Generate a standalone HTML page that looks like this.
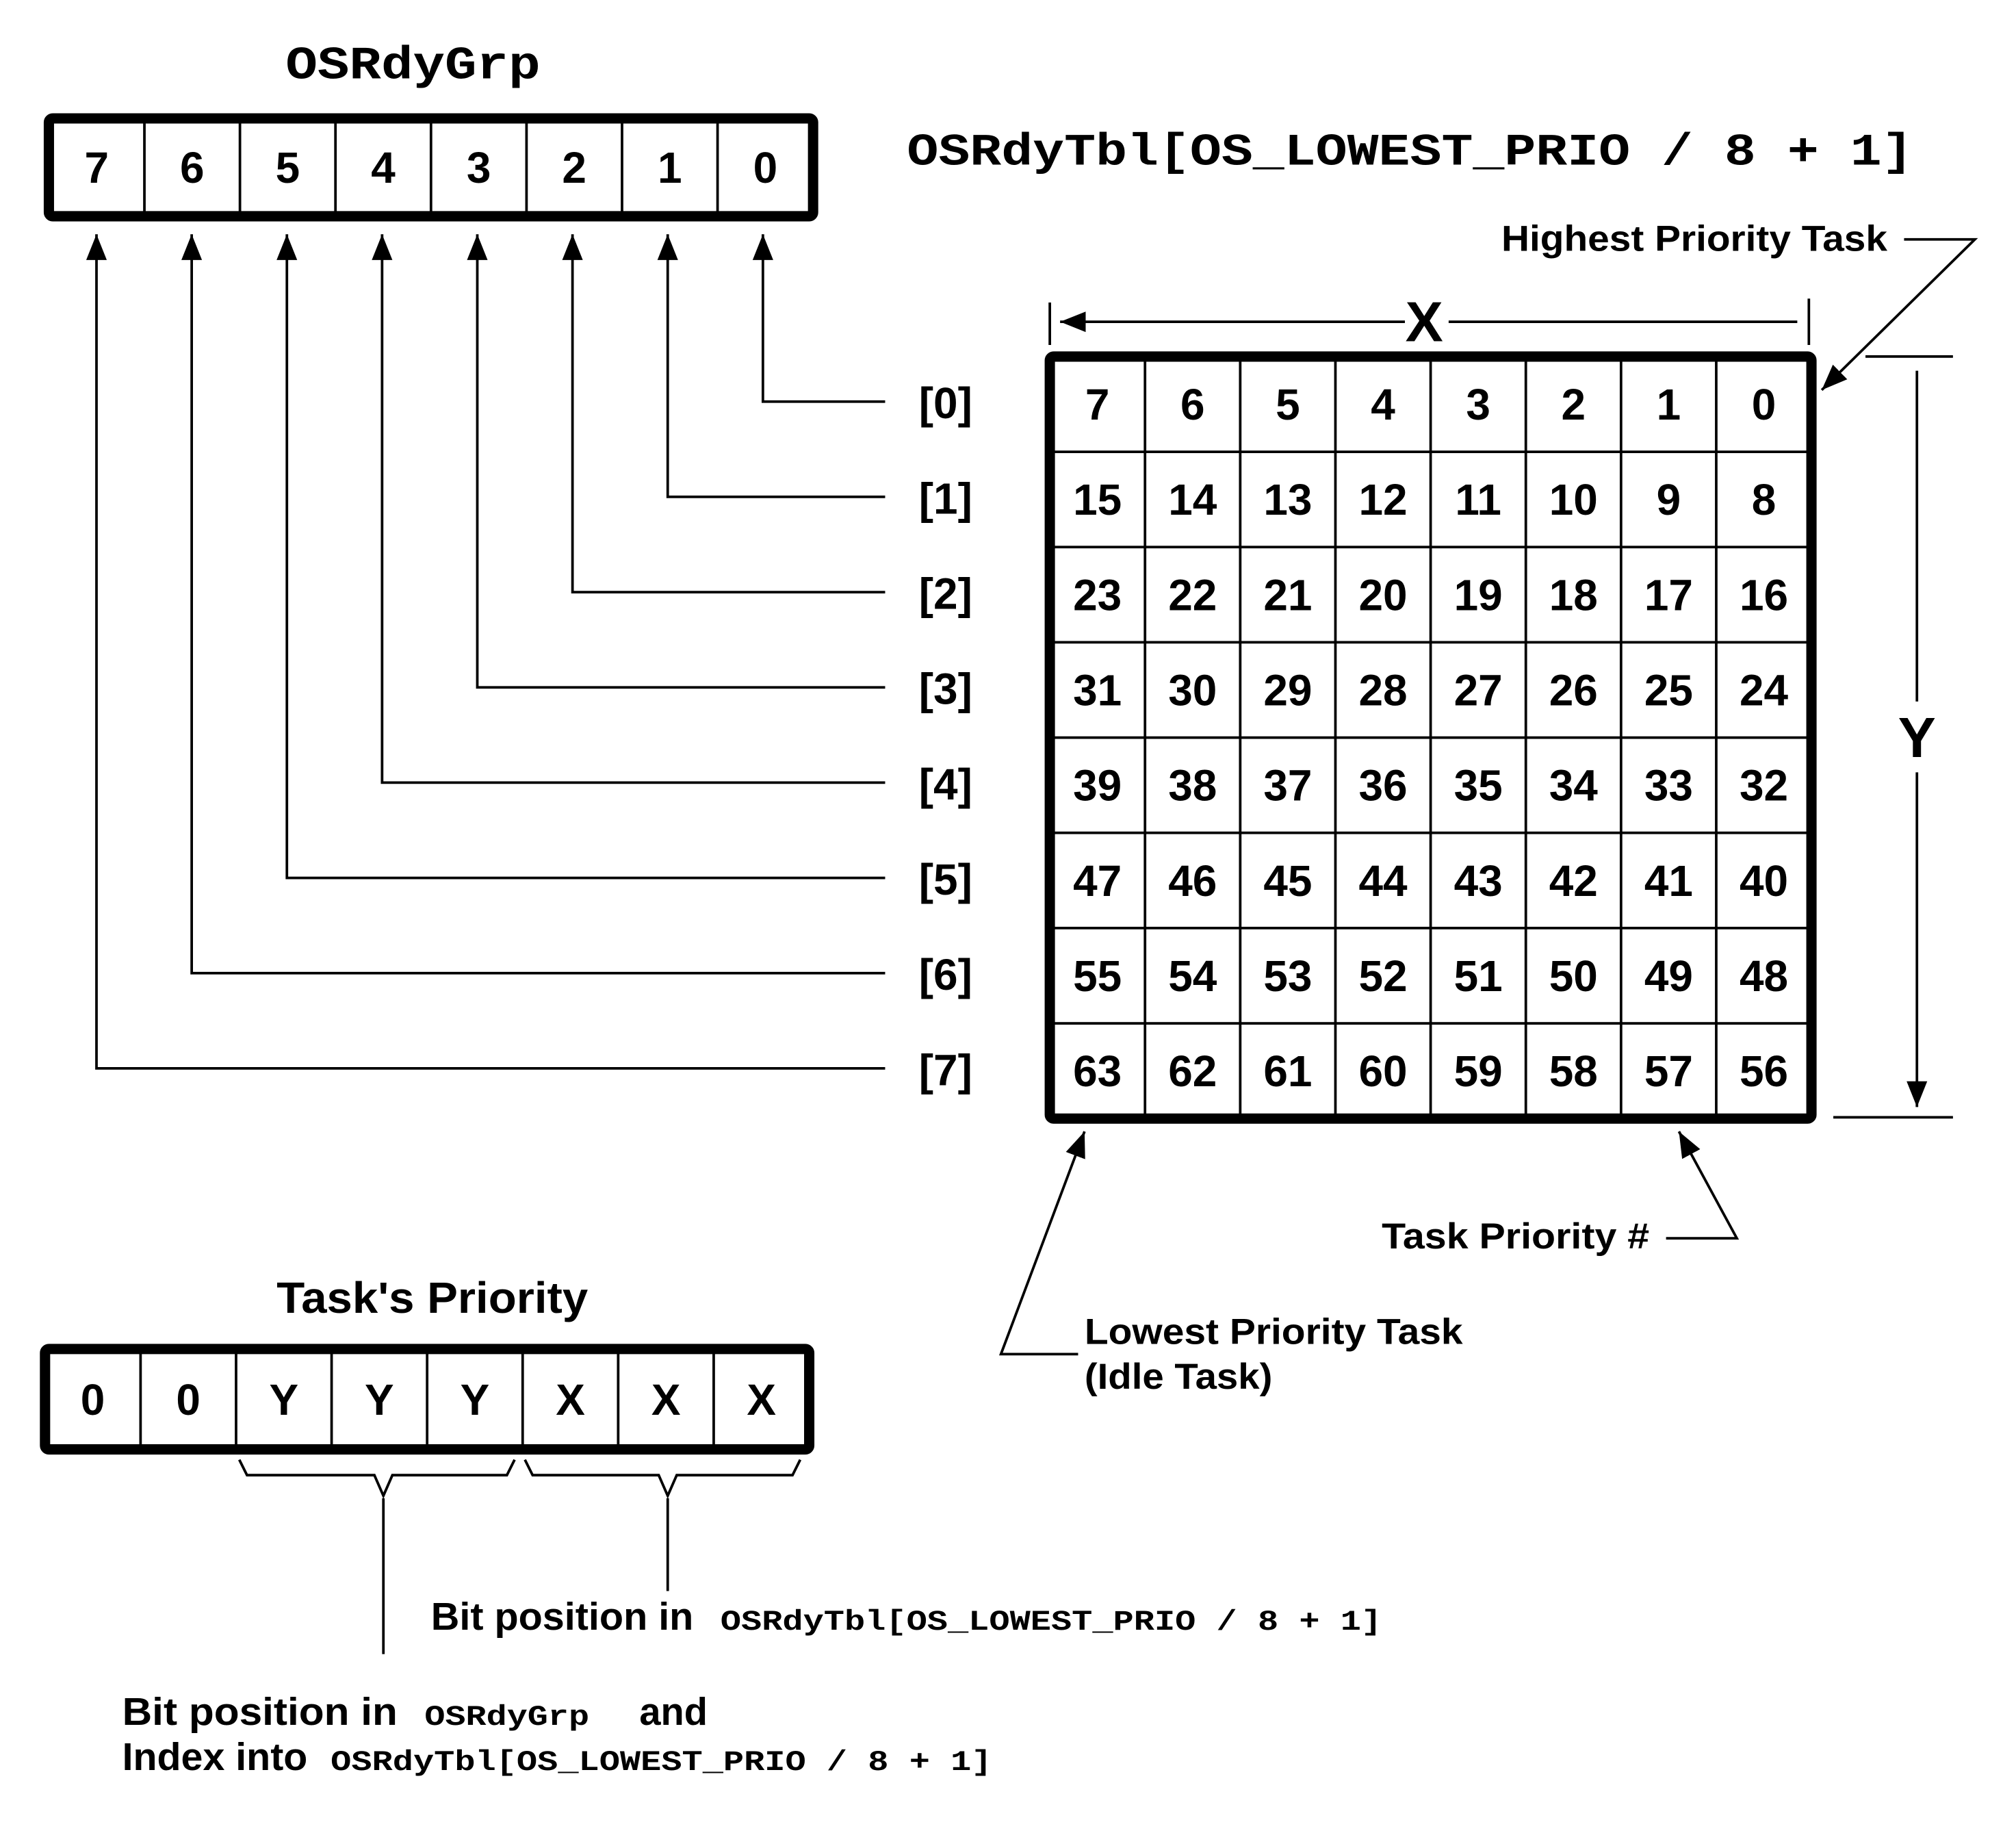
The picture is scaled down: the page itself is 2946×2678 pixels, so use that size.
<!DOCTYPE html>
<html><head><meta charset="utf-8"><style>html,body{margin:0;padding:0;background:#fff}svg{display:block}
.s{font-family:"Liberation Sans",sans-serif;font-weight:bold;fill:#000}
.m{font-family:"Liberation Mono",monospace;font-weight:bold;fill:#000}
</style></head><body>
<svg id="d" width="2946" height="2678" viewBox="0 0 1567 1424" preserveAspectRatio="none" xmlns="http://www.w3.org/2000/svg">
<defs><marker id="ab" viewBox="0 0 10 10" refX="10" refY="5" markerWidth="20" markerHeight="20" markerUnits="userSpaceOnUse" orient="auto"><path d="M0,1L10,5L0,9z" fill="#000"/></marker></defs>
<text class="m" x="222" y="61" font-size="36" textLength="198" lengthAdjust="spacingAndGlyphs">OSRdyGrp</text>
<g id="grp"></g>
<text class="m" x="705" y="128" font-size="35" textLength="782" lengthAdjust="spacingAndGlyphs">OSRdyTbl[OS_LOWEST_PRIO / 8 + 1]</text>
<g id="arrows"></g>
<g id="tbl"></g>
<g stroke="#000" stroke-width="2">
<line x1="816" y1="235" x2="816" y2="268"/><line x1="1406" y1="232" x2="1406" y2="268"/>
<line x1="1092" y1="250" x2="824" y2="250" marker-end="url(#ab)"/><line x1="1126" y1="250" x2="1397" y2="250"/>
</g>
<text class="s" x="1107" y="265" font-size="44" text-anchor="middle">X</text>
<g stroke="#000" stroke-width="2">
<line x1="1450" y1="277" x2="1518" y2="277"/><line x1="1425" y1="868" x2="1518" y2="868"/>
<line x1="1490" y1="288" x2="1490" y2="545"/><line x1="1490" y1="600" x2="1490" y2="860" marker-end="url(#ab)"/>
</g>
<text class="s" x="1490" y="588" font-size="44" text-anchor="middle">Y</text>
<text class="s" x="1167" y="195" font-size="28" textLength="300" lengthAdjust="spacingAndGlyphs">Highest Priority Task</text>
<polyline points="1480,186 1535,186 1416,303" fill="none" stroke="#000" stroke-width="2" marker-end="url(#ab)"/>
<text class="s" x="1074" y="970" font-size="28" textLength="208" lengthAdjust="spacingAndGlyphs">Task Priority #</text>
<polyline points="1295,962 1350,962 1305,879" fill="none" stroke="#000" stroke-width="2" marker-end="url(#ab)"/>
<text class="s" x="843" y="1044" font-size="28" textLength="294" lengthAdjust="spacingAndGlyphs">Lowest Priority Task</text>
<text class="s" x="843" y="1079" font-size="28" textLength="146" lengthAdjust="spacingAndGlyphs">(Idle Task)</text>
<polyline points="838,1052 778,1052 843,879" fill="none" stroke="#000" stroke-width="2" marker-end="url(#ab)"/>
<text class="s" x="336" y="1020" font-size="34" text-anchor="middle" textLength="242" lengthAdjust="spacingAndGlyphs">Task's Priority</text>
<g id="prio"></g>
<g fill="none" stroke="#000" stroke-width="2">
<polyline points="186,1134 192,1146 291,1146 298,1162 305,1146 394,1146 400,1134"/>
<polyline points="408,1134 414,1146 512,1146 519,1162 526,1146 616,1146 622,1134"/>
<line x1="298" y1="1164" x2="298" y2="1285"/><line x1="519" y1="1164" x2="519" y2="1236"/>
</g>
<text class="s" x="335" y="1266" font-size="30" textLength="204" lengthAdjust="spacingAndGlyphs">Bit position in</text>
<text class="m" x="560" y="1266" font-size="22" textLength="514" lengthAdjust="spacingAndGlyphs">OSRdyTbl[OS_LOWEST_PRIO / 8 + 1]</text>
<text class="s" x="95" y="1340" font-size="30" textLength="214" lengthAdjust="spacingAndGlyphs">Bit position  in</text>
<text class="m" x="330" y="1340" font-size="22" textLength="128" lengthAdjust="spacingAndGlyphs">OSRdyGrp</text>
<text class="s" x="497" y="1340" font-size="30" textLength="53" lengthAdjust="spacingAndGlyphs">and</text>
<text class="s" x="95" y="1375" font-size="30" textLength="144" lengthAdjust="spacingAndGlyphs">Index into</text>
<text class="m" x="257" y="1375" font-size="22" textLength="514" lengthAdjust="spacingAndGlyphs">OSRdyTbl[OS_LOWEST_PRIO / 8 + 1]</text>
</svg>
<script>
const NS="http://www.w3.org/2000/svg";
const grpBits=["7","6","5","4","3","2","1","0"];
const prioBits=["0","0","Y","Y","Y","X","X","X"];
const rowLabels=["[0]","[1]","[2]","[3]","[4]","[5]","[6]","[7]"];
function mk(p,t,a){const e=document.createElementNS(NS,t);for(const k in a)e.setAttribute(k,a[k]);p.appendChild(e);return e;}
function reg(g,x,y,w,h,vals,name){
  mk(g,"rect",{x:x,y:y,width:w,height:h,fill:"#fff",stroke:"#000","stroke-width":8,rx:3});
  const cw=w/8;
  vals.forEach((v,i)=>{
    if(i>0)mk(g,"line",{x1:x+cw*i,y1:y,x2:x+cw*i,y2:y+h,stroke:"#000","stroke-width":2});
    const t=mk(g,"text",{x:x+cw*(i+.5),y:y+h/2+12,"font-size":34,"text-anchor":"middle",class:"s"});
    t.textContent=v;
    
    
  });
}
reg(document.getElementById("grp"),38,92,594,76,grpBits,"grp-bit");
reg(document.getElementById("prio"),35,1048,594,78,prioBits,"prio-bit");
const tbl=document.getElementById("tbl");
const TX=816,TY=277,C=74;
mk(tbl,"rect",{x:TX,y:TY,width:C*8,height:C*8,fill:"#fff",stroke:"#000","stroke-width":8,rx:3});
for(let i=1;i<8;i++){
  mk(tbl,"line",{x1:TX+C*i,y1:TY,x2:TX+C*i,y2:TY+C*8,stroke:"#000","stroke-width":2});
  mk(tbl,"line",{x1:TX,y1:TY+C*i,x2:TX+C*8,y2:TY+C*i,stroke:"#000","stroke-width":2});
}
for(let r=0;r<8;r++)for(let c=0;c<8;c++){
  const t=mk(tbl,"text",{x:TX+C*(c+.5),y:TY+C*(r+.5)+12,"font-size":34,"text-anchor":"middle",class:"s"});
  t.textContent=String(r*8+7-c);
  
  
}
const ar=document.getElementById("arrows");
const bx=i=>38+C*(i+.5);
for(let r=0;r<8;r++){
  const y=TY+C*(r+.5)-2;
  const x=bx(7-r);
  const p=mk(ar,"polyline",{points:`688,${y} ${x},${y} ${x},182`,fill:"none",stroke:"#000","stroke-width":2,"marker-end":"url(#ab)"});
  
  
  const t=mk(ar,"text",{x:735,y:y+13,"font-size":34,"text-anchor":"middle",class:"s"});
  t.textContent=rowLabels[r];
  
  
}
</script>
</body></html>
